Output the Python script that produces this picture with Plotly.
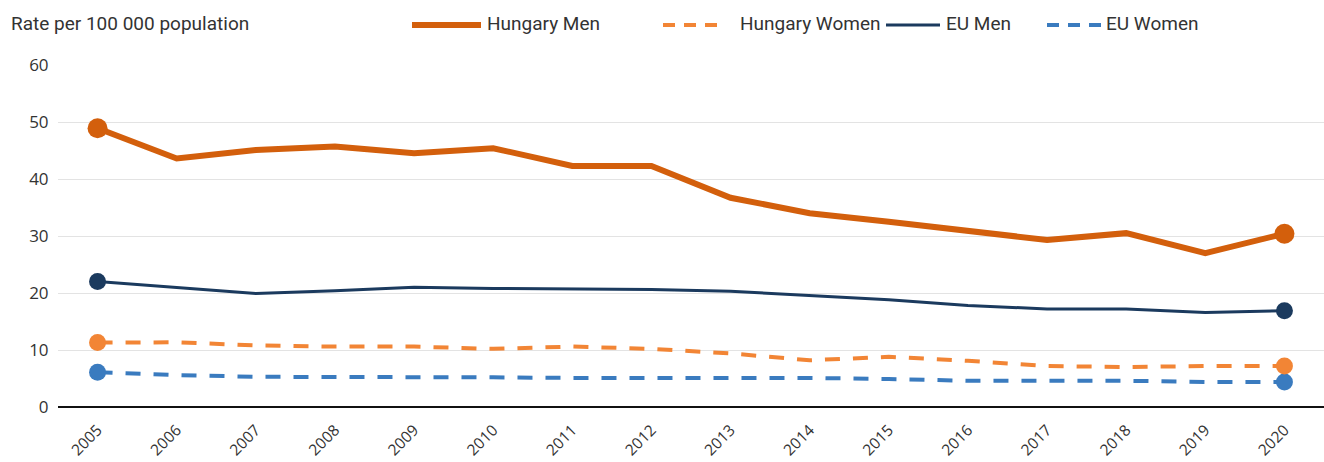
import plotly.graph_objects as go

years = [str(y) for y in range(2005, 2021)]

hungary_men = [48.9, 43.6, 45.1, 45.7, 44.5, 45.4, 42.3, 42.3, 36.7, 34.0, 32.5, 31.0, 29.3, 30.5, 27.0, 30.4]
hungary_women = [11.3, 11.35, 10.8, 10.6, 10.6, 10.2, 10.6, 10.2, 9.4, 8.2, 8.8, 8.1, 7.2, 7.0, 7.2, 7.2]
eu_men = [22.0, 21.0, 19.9, 20.4, 21.0, 20.8, 20.7, 20.6, 20.3, 19.5, 18.8, 17.8, 17.2, 17.2, 16.6, 16.9]
eu_women = [6.1, 5.6, 5.3, 5.3, 5.3, 5.2, 5.1, 5.1, 5.2, 5.1, 4.9, 4.6, 4.6, 4.6, 4.4, 4.4]

DASH = "15px,13px"

series = [
    # name, values, colour, width, dash, end-marker size
    ("EU Women", eu_women, "#3A7BBF", 4, DASH, 17),
    ("Hungary Women", hungary_women, "#F28535", 4, DASH, 17),
    ("EU Men", eu_men, "#1B3A5E", 3, "solid", 17),
    ("Hungary Men", hungary_men, "#D35F0C", 6, "solid", 20),
]

W, H = 1324, 462
L, R, T, B = 58, 0, 65, 55

fig = go.Figure()
for name, vals, col, w, dash, ms in series:
    fig.add_trace(go.Scatter(
        x=years, y=vals, mode="lines", name=name,
        line=dict(color=col, width=w, dash=dash),
        showlegend=False, hoverinfo="x+y",
    ))
    # markers on the first and last year
    fig.add_trace(go.Scatter(
        x=[years[0], years[-1]], y=[vals[0], vals[-1]], mode="markers",
        marker=dict(color=col, size=ms), showlegend=False, hoverinfo="x+y",
    ))

fig.update_layout(
    width=W, height=H,
    margin=dict(l=L, r=R, t=T, b=B),
    paper_bgcolor="white", plot_bgcolor="white",
    font=dict(family="Open Sans", color="#333333"),
    xaxis=dict(
        type="category", range=[-0.5, 15.5], showgrid=False,
        tickangle=-45, tickfont=dict(size=15.5, color="#333333"),
        ticks="outside", ticklen=7, tickcolor="rgba(0,0,0,0)",
        showline=False, zeroline=False,
    ),
    yaxis=dict(
        range=[0, 60], dtick=10, showgrid=True, gridcolor="#e3e3e3", gridwidth=1,
        tickfont=dict(size=17, color="#333333"), ticks="outside", ticklen=5,
        tickcolor="rgba(0,0,0,0)", zeroline=True, zerolinecolor="#111111", zerolinewidth=2,
        showline=False,
    ),
)

pw, ph = W - L - R, H - T - B

# axis title above the plot
fig.add_annotation(
    text="Rate per 100 000 population", xref="paper", yref="paper",
    x=(9 - L) / pw, y=(H - B - 24) / ph, xanchor="left", yanchor="middle",
    showarrow=False, font=dict(family="Roboto", size=19, color="#333333"),
)

# legend drawn as line samples with labels
legend_items = [
    ("Hungary Men", "#D35F0C", 6, "solid", 412, 481, 485),
    ("Hungary Women", "#F28535", 4, "dash", 663, 720, 738),
    ("EU Men", "#1B3A5E", 3, "solid", 886, 940, 944),
    ("EU Women", "#3A7BBF", 4, "dash", 1047, 1102, 1104),
]
ly = 25
for name, col, w, dash, x0, x1, tx in legend_items:
    fig.add_shape(
        type="line", xref="paper", yref="paper",
        x0=(x0 - L) / pw, x1=(x1 - L) / pw,
        y0=(H - B - ly) / ph, y1=(H - B - ly) / ph,
        line=dict(color=col, width=w, dash="12px,9px" if dash == "dash" else "solid"),
    )
    fig.add_annotation(
        text=name, xref="paper", yref="paper",
        x=(tx - L) / pw, y=(H - B - ly + 1) / ph, xanchor="left", yanchor="middle",
        showarrow=False, font=dict(family="Roboto", size=19, color="#333333"),
    )

fig.write_html("out.html")
